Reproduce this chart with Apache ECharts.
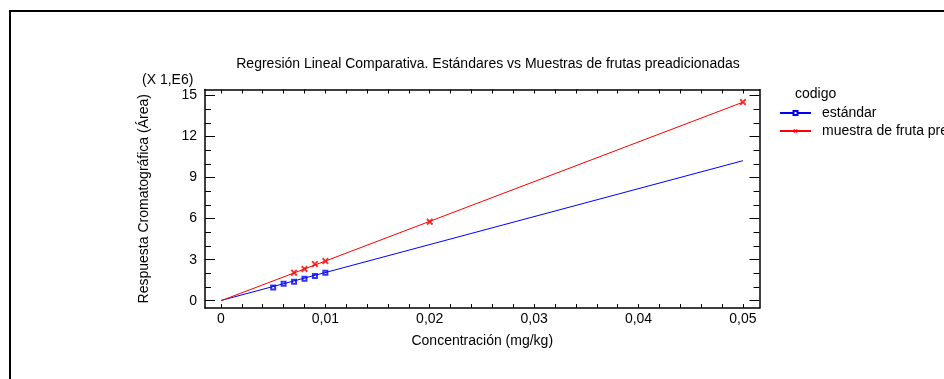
<!DOCTYPE html>
<html>
<head>
<meta charset="utf-8">
<script src="https://cdn.jsdelivr.net/npm/echarts@6/dist/echarts.min.js"></script>
<style>
  html, body { margin: 0; padding: 0; background: #fff; }
  #box1 { width: 944px; height: 379px; }
</style>
</head>
<body>
<div id="box1"></div>
<script>
// datos (Y en unidades de 1E6)
var concStd = [0.005, 0.006, 0.007, 0.008, 0.009, 0.010];
var areaStd = [0.97, 1.24, 1.39, 1.61, 1.80, 2.05];
var concFruta = [0.007, 0.008, 0.009, 0.010, 0.020, 0.050];
var areaFruta = [2.05, 2.32, 2.68, 2.90, 5.77, 14.51];
// rectas de regresion (extremos)
var fitX = [0, 0.05];
var fitStd = [0.02, 10.23];
var fitFruta = [0.0, 14.5];

var xLabels = [0, 0.01, 0.02, 0.03, 0.04, 0.05];
var xTicks = [0, 0.002, 0.004, 0.006, 0.008, 0.01, 0.012, 0.014, 0.016, 0.018, 0.02,
  0.022, 0.024, 0.026, 0.028, 0.03, 0.032, 0.034, 0.036, 0.038, 0.04,
  0.042, 0.044, 0.046, 0.048, 0.05];
var yLabels = [0, 3, 6, 9, 12, 15];
var yMinor = [1, 2, 4, 5, 7, 8, 10, 11, 13, 14];

var nombres = ['estándar', 'muestra de fruta preadicionada'];

var chart = echarts.init(document.getElementById('box1'));

var font = 'Liberation Sans, Arial, sans-serif';
var fs = 14;
var xMin = -0.00153, xMax = 0.05159;
var yMin = -0.53, yMax = 15.43;

function pares(xs, ys) {
  return xs.map(function(x, i) { return [x, ys[i]]; });
}

function ejeX(pos, conEtiquetas) {
  return {
    type: 'value',
    position: pos,
    min: xMin,
    max: xMax,
    name: conEtiquetas ? 'Concentración (mg/kg)' : '',
    nameLocation: 'middle',
    nameGap: 26,
    nameTextStyle: { color: '#000', fontSize: fs, fontFamily: font },
    axisLine: { show: true, onZero: false, lineStyle: { color: '#000', width: 1.5 } },
    axisTick: { show: true, inside: true, length: 4, customValues: xTicks, lineStyle: { color: '#000' } },
    axisLabel: {
      show: conEtiquetas,
      customValues: xLabels,
      margin: 4,
      color: '#000',
      fontSize: fs,
      fontFamily: font,
      formatter: function(v) {
        return v === 0 ? '0' : v.toFixed(2).replace('.', ',');
      }
    },
    splitLine: { show: false }
  };
}

function ejeY(pos, valores, largo, conEtiquetas, linea) {
  return {
    type: 'value',
    position: pos,
    min: yMin,
    max: yMax,
    name: conEtiquetas ? 'Respuesta Cromatográfica (Área)' : '',
    nameLocation: 'middle',
    nameGap: 54,
    nameTextStyle: { color: '#000', fontSize: fs, fontFamily: font },
    axisLine: { show: linea, onZero: false, lineStyle: { color: '#000', width: 1.5 } },
    axisTick: { show: true, inside: true, length: largo, customValues: valores, lineStyle: { color: '#000' } },
    axisLabel: {
      show: conEtiquetas,
      customValues: valores,
      margin: 8,
      color: '#000',
      fontSize: fs,
      fontFamily: font
    },
    splitLine: { show: false }
  };
}

var cruz = 'path://M0,2L2,0L5,3L8,0L10,2L7,5L10,8L8,10L5,7L2,10L0,8L3,5Z';

var option = {
  animation: false,
  backgroundColor: '#fff',
  title: {
    text: 'Regresión Lineal Comparativa. Estándares vs Muestras de frutas preadicionadas',
    left: 483,
    top: 52,
    textAlign: 'center',
    textStyle: { color: '#000', fontSize: fs, fontWeight: 'normal', fontFamily: font }
  },
  legend: {
    data: nombres,
    orient: 'vertical',
    left: 774,
    top: 101,
    itemWidth: 31,
    itemHeight: 5,
    itemGap: 4,
    textStyle: { color: '#000', fontSize: fs, fontFamily: font, padding: [0, 0, 0, 6] }
  },
  grid: { left: 205, top: 89.5, right: 184.5, bottom: 71, containLabel: false },
  graphic: [
    {
      type: 'rect',
      shape: { x: 10, y: 11, width: 1000, height: 500 },
      style: { fill: 'none', stroke: '#000', lineWidth: 2 }
    },
    {
      type: 'text', left: 142, top: 73,
      style: { text: '(X 1,E6)', fill: '#000', font: fs + 'px ' + font }
    },
    {
      type: 'text', left: 795, top: 87,
      style: { text: 'codigo', fill: '#000', font: fs + 'px ' + font }
    }
  ],
  xAxis: [ejeX('bottom', true), ejeX('top', false)],
  yAxis: [
    ejeY('left', yLabels, 10, true, true),
    ejeY('left', yMinor, 6, false, false),
    ejeY('right', yLabels, 10, false, true),
    ejeY('right', yMinor, 6, false, false)
  ],
  series: [
    {
      name: nombres[0],
      type: 'line',
      data: pares(fitX, fitStd),
      symbol: 'emptyRect',
      symbolSize: 4,
      showSymbol: false,
      lineStyle: { color: '#0000ff', width: 1 },
      itemStyle: { color: '#0000ff', borderWidth: 1.2 }
    },
    {
      name: nombres[1],
      type: 'line',
      data: pares(fitX, fitFruta),
      symbol: cruz,
      symbolSize: 5,
      showSymbol: false,
      lineStyle: { color: '#ff0000', width: 1 },
      itemStyle: { color: '#ff0000' }
    },
    {
      name: nombres[0],
      type: 'scatter',
      data: pares(concStd, areaStd),
      symbol: 'emptyRect',
      symbolSize: 4,
      itemStyle: { color: '#0000ff', borderColor: '#0000ff', borderWidth: 1.5 }
    },
    {
      name: nombres[1],
      type: 'scatter',
      data: pares(concFruta, areaFruta),
      symbol: cruz,
      symbolSize: 7,
      itemStyle: { color: '#ff0000' }
    }
  ]
};

chart.setOption(option);
</script>
</body>
</html>
